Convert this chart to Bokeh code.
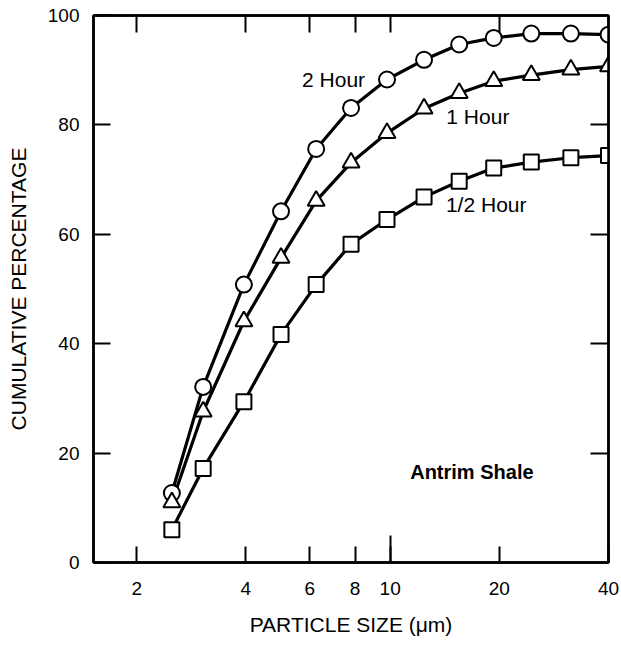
from bokeh.plotting import figure
from bokeh.models import FixedTicker, LinearAxis, LogAxis, Label, BasicTickFormatter, ColumnDataSource, Range1d
from bokeh.embed import file_html
from bokeh.resources import INLINE

# ---- data ----
particle_size = [2.5, 3.05, 3.95, 5.0, 6.25, 7.8, 9.8, 12.4, 15.5, 19.3, 24.5, 31.5, 40.0]
two_hour = [12.7, 32.1, 50.8, 64.2, 75.6, 83.1, 88.3, 91.9, 94.7, 95.9, 96.7, 96.7, 96.5]
one_hour = [11.0, 27.6, 44.1, 55.7, 66.1, 73.1, 78.5, 83.0, 85.8, 88.0, 89.1, 90.1, 90.7]
half_hour = [6.0, 17.2, 29.4, 41.7, 50.8, 58.2, 62.7, 66.8, 69.7, 72.1, 73.2, 74.0, 74.4]

x_ticks = [2, 4, 6, 8, 10, 20, 40]
x_ticks_top = [2, 4, 6, 8, 10, 20]
y_ticks = [0, 20, 40, 60, 80, 100]
y_ticks_inner = [20, 40, 60, 80]

FONT = "Liberation Sans"

src = ColumnDataSource(dict(x=particle_size, two=two_hour, one=one_hour, half=half_hour))

p = figure(width=621, height=667, x_axis_type="log",
           x_range=Range1d(1.52, 40), y_range=Range1d(0, 100),
           output_backend="svg", toolbar_location=None,
           min_border_left=93, min_border_right=13, min_border_top=15, min_border_bottom=105)
p.grid.visible = False
p.outline_line_color = "black"
p.outline_line_width = 2.5
p.background_fill_color = "white"
p.border_fill_color = "white"

def style_axis(ax, tick_len):
    ax.axis_line_color = "black"
    ax.axis_line_width = 2.5
    ax.major_tick_line_color = "black"
    ax.major_tick_line_width = 2
    ax.major_tick_in = tick_len
    ax.major_tick_out = 0
    ax.minor_tick_line_color = "black"
    ax.minor_tick_line_width = 2
    ax.minor_tick_out = 0
    ax.major_label_text_font = FONT
    ax.major_label_text_font_size = "19px"
    ax.major_label_text_color = "black"
    ax.axis_label_text_font = FONT
    ax.axis_label_text_font_style = "normal"
    ax.axis_label_text_font_size = "21px"
    ax.axis_label_text_color = "black"

xa = p.xaxis[0]
xa.ticker = FixedTicker(ticks=x_ticks, minor_ticks=[10])
xa.formatter = BasicTickFormatter()
style_axis(xa, 16)
xa.minor_tick_in = 27
xa.major_label_standoff = 19
xa.axis_label = "PARTICLE SIZE (\u03bcm)"
xa.axis_label_standoff = 15

ya = p.yaxis[0]
ya.ticker = FixedTicker(ticks=y_ticks)
ya.formatter = BasicTickFormatter()
style_axis(ya, 17)
ya.major_label_standoff = 14
ya.axis_label = "CUMULATIVE PERCENTAGE"
ya.axis_label_standoff = 15

# frame-side axes: ticks only, no labels drawn
top = LogAxis(ticker=FixedTicker(ticks=x_ticks_top))
style_axis(top, 17)
top.major_label_text_font_size = "1px"
top.major_label_text_color = None
top.major_label_standoff = 0
p.add_layout(top, "above")

right = LinearAxis(ticker=FixedTicker(ticks=y_ticks_inner))
style_axis(right, 18)
right.major_label_text_font_size = "1px"
right.major_label_text_color = None
right.major_label_standoff = 0
p.add_layout(right, "right")

# curves
for col in ["two", "one", "half"]:
    p.line("x", col, source=src, line_color="black", line_width=3.2)

p.scatter("x", "two", source=src, marker="circle", size=16, fill_color="white",
          line_color="black", line_width=2)
p.scatter("x", "one", source=src, marker="triangle", size=17, fill_color="white",
          line_color="black", line_width=2)
p.scatter("x", "half", source=src, marker="square", size=15, fill_color="white",
          line_color="black", line_width=2)

def add_label(x, y, text, size="21px", style="normal", align="center"):
    p.add_layout(Label(x=x, y=y, text=text, text_align=align, text_baseline="middle",
                       text_font=FONT, text_font_size=size, text_font_style=style,
                       text_color="black"))

add_label(6.98, 88.3, "2 Hour")
add_label(17.45, 81.6, "1 Hour")
add_label(18.4, 65.5, "1/2 Hour")
add_label(16.8, 16.6, "Antrim Shale", size="20px", style="bold")
add_label(41.8, -17.4, "JA\u20132252\u20136A", size="15px", style="bold", align="right")

open("out.html", "w").write(file_html(p, INLINE))
